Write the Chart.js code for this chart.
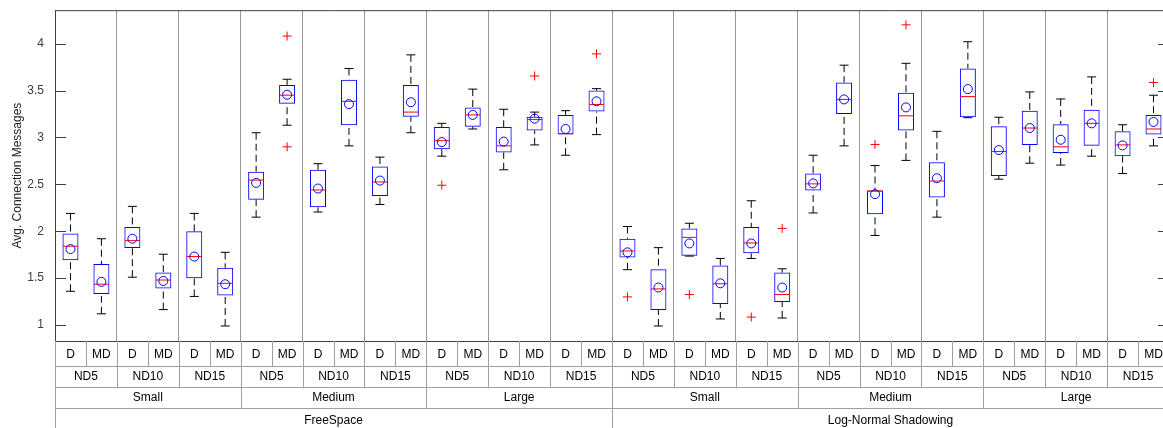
<!DOCTYPE html>
<html>
<head>
<meta charset="utf-8">
<script src="https://cdn.jsdelivr.net/npm/chart.js@4.4.0/dist/chart.umd.min.js"></script>
<style>
  html, body { margin: 0; padding: 0; background: #fff; overflow: hidden; }
  #wrap { position: relative; width: 1171px; height: 428px; }
</style>
</head>
<body>
<div id="wrap"><canvas id="boxChart"></canvas></div>
<script>
// category levels, outermost first
const propagation = ['FreeSpace', 'Log-Normal Shadowing'];
const sizes = ['Small', 'Medium', 'Large'];
const densities = ['ND5', 'ND10', 'ND15'];
const methods = ['D', 'MD'];

const yTicks = [1, 1.5, 2, 2.5, 3, 3.5, 4];

// one value per box: propagation > size > density > method
const whiskerLow = [1.36, 1.12, 1.51, 1.165, 1.305, 0.99, 2.15, 3.13, 2.205, 2.91, 2.285, 3.05,
  2.80, 3.09, 2.655, 2.92, 2.81, 3.03, 1.59, 0.99, 1.735, 1.065, 1.71, 1.075,
  2.195, 2.91, 1.955, 2.755, 2.15, 3.21, 2.555, 2.725, 2.705, 2.80, 2.615, 2.91];
const q1 = [1.69, 1.33, 1.82, 1.39, 1.50, 1.315, 2.335, 3.36, 2.255, 3.13, 2.375, 3.22,
  2.875, 3.115, 2.84, 3.075, 3.03, 3.275, 1.72, 1.16, 1.74, 1.225, 1.765, 1.245,
  2.435, 3.25, 2.18, 3.075, 2.36, 3.215, 2.59, 2.92, 2.835, 2.91, 2.80, 3.03];
const median = [1.84, 1.435, 1.90, 1.48, 1.73, 1.445, 2.545, 3.45, 2.44, 3.385, 2.525, 3.27,
  2.965, 3.24, 2.91, 3.19, 3.04, 3.35, 1.79, 1.385, 1.935, 1.44, 1.875, 1.325,
  2.505, 3.405, 2.43, 3.23, 2.535, 3.435, 2.85, 3.10, 2.90, 3.15, 2.92, 3.09];
const q3 = [1.975, 1.65, 2.045, 1.56, 2.00, 1.61, 2.635, 3.56, 2.655, 3.615, 2.69, 3.56,
  3.11, 3.32, 3.11, 3.22, 3.24, 3.50, 1.92, 1.595, 2.03, 1.635, 2.045, 1.56,
  2.615, 3.585, 2.435, 3.475, 2.735, 3.735, 3.12, 3.285, 3.14, 3.295, 3.065, 3.24];
const whiskerHigh = [2.19, 1.92, 2.265, 1.755, 2.19, 1.775, 3.05, 3.62, 2.72, 3.735, 2.79, 3.88,
  3.15, 3.515, 3.30, 3.27, 3.285, 3.52, 2.05, 1.825, 2.085, 1.71, 2.325, 1.60,
  2.81, 3.77, 2.70, 3.79, 3.065, 4.02, 3.215, 3.485, 3.41, 3.645, 3.135, 3.45];
const mean = [1.81, 1.46, 1.92, 1.47, 1.73, 1.435, 2.515, 3.455, 2.455, 3.355, 2.54, 3.375,
  2.95, 3.24, 2.955, 3.20, 3.09, 3.385, 1.775, 1.40, 1.87, 1.445, 1.87, 1.40,
  2.51, 3.405, 2.395, 3.32, 2.565, 3.515, 2.865, 3.10, 2.975, 3.15, 2.915, 3.165];
const outlierBox = [7, 7, 12, 15, 17, 18, 20, 22, 23, 26, 27, 35];
const outlierValue = [4.08, 2.90, 2.49, 3.655, 3.89, 1.30, 1.325, 1.085, 2.03, 2.925, 4.20, 3.585];

Chart.defaults.font.family = "'Liberation Sans', Arial, sans-serif";

const slot = i => i + 0.5;

const boxData = q1.map((v, i) => ({ x: slot(i), y: [v, q3[i]] }));
const whiskerData = [];
q1.forEach((v, i) => {
  whiskerData.push({ x: slot(i), y: whiskerHigh[i] }, { x: slot(i), y: q3[i] }, { x: slot(i), y: null });
  whiskerData.push({ x: slot(i), y: whiskerLow[i] }, { x: slot(i), y: v }, { x: slot(i), y: null });
});
const capData = [];
q1.forEach((v, i) => {
  capData.push({ x: slot(i), y: whiskerLow[i] }, { x: slot(i), y: whiskerHigh[i] });
});
const medianData = median.map((v, i) => ({ x: slot(i), y: v }));
const meanData = mean.map((v, i) => ({ x: slot(i), y: v }));
const outlierData = outlierBox.map((b, k) => ({ x: slot(b), y: outlierValue[k] }));

function strokeLine(ctx, x1, y1, x2, y2) {
  ctx.beginPath();
  ctx.moveTo(x1, y1);
  ctx.lineTo(x2, y2);
  ctx.stroke();
}

// frame + inward tick marks (right side runs past the window edge, as in the crop)
const framePlugin = {
  id: 'frame',
  afterDatasetsDraw(chart) {
    const { ctx, chartArea: a, scales: { y } } = chart;
    ctx.save();
    ctx.strokeStyle = '#404040';
    ctx.lineWidth = 1;
    strokeLine(ctx, a.left, a.top + 0.5, a.right, a.top + 0.5);
    strokeLine(ctx, a.right - 0.5, a.top, a.right - 0.5, a.bottom);
    yTicks.forEach(v => {
      const py = Math.round(y.getPixelForValue(v)) + 0.5;
      strokeLine(ctx, a.left, py, a.left + 11, py);
      strokeLine(ctx, a.right - 11, py, a.right, py);
    });
    ctx.restore();
  }
};

// nested category table under the plot
const tablePlugin = {
  id: 'categoryTable',
  afterDraw(chart) {
    const { ctx, chartArea: a, scales: { x } } = chart;
    const top = a.bottom;
    const rowEdges = [top, top + 25, top + 46, top + 67, chart.height];
    const px = v => Math.round(x.getPixelForValue(v)) + 0.5;
    const spans = [1, 2, 6, 18];
    const n = q1.length;

    ctx.save();
    ctx.lineWidth = 1;
    ctx.strokeStyle = '#a0a0a0';
    for (let r = 1; r < 4; r++) {
      const yy = Math.round(rowEdges[r]) + 0.5;
      strokeLine(ctx, px(0), yy, a.right, yy);
    }
    for (let k = 0; k <= n; k++) {
      let lvl = 0;
      while (lvl < spans.length && k % spans[lvl] === 0) lvl++;
      strokeLine(ctx, px(k), top, px(k), rowEdges[lvl]);
    }

    ctx.fillStyle = '#000';
    ctx.font = "12px 'Liberation Sans', Arial, sans-serif";
    ctx.textAlign = 'center';
    ctx.textBaseline = 'middle';
    const levels = [methods, densities, sizes, propagation];
    const textY = [top + 13.5, top + 36, top + 57, top + 80];
    levels.forEach((labels, r) => {
      const span = spans[r];
      for (let g = 0; g < n / span; g++) {
        const cx = x.getPixelForValue(g * span + span / 2);
        ctx.fillText(labels[g % labels.length], cx, textY[r]);
      }
    });
    ctx.restore();
  }
};

new Chart(document.getElementById('boxChart'), {
  type: 'bar',
  data: {
    datasets: [
      {
        type: 'line',
        data: whiskerData,
        borderColor: '#000',
        borderWidth: 1,
        borderDash: [7, 4],
        pointRadius: 0,
        spanGaps: false,
        fill: false,
        order: 5
      },
      {
        type: 'bar',
        data: boxData,
        backgroundColor: 'rgba(0,0,0,0)',
        borderColor: '#0000ff',
        borderWidth: 1,
        borderSkipped: false,
        barThickness: 16,
        inflateAmount: 0,
        order: 4
      },
      {
        type: 'scatter',
        data: capData,
        pointStyle: 'line',
        pointRadius: 4.5,
        borderColor: '#000',
        borderWidth: 1,
        order: 3
      },
      {
        type: 'scatter',
        data: medianData,
        pointStyle: 'line',
        pointRadius: 7.5,
        borderColor: '#ff0000',
        borderWidth: 1,
        order: 2
      },
      {
        type: 'scatter',
        data: meanData,
        pointStyle: 'circle',
        pointRadius: 4.5,
        borderColor: '#0000ff',
        backgroundColor: 'rgba(0,0,0,0)',
        borderWidth: 1,
        order: 1
      },
      {
        type: 'scatter',
        data: outlierData,
        pointStyle: 'cross',
        pointRadius: 4.5,
        borderColor: '#ff0000',
        borderWidth: 1,
        order: 0
      }
    ]
  },
  options: {
    responsive: true,
    maintainAspectRatio: false,
    animation: false,
    events: [],
    layout: { autoPadding: false, padding: { left: 0, top: 10, right: 2, bottom: 87 } },
    plugins: { legend: { display: false }, tooltip: { enabled: false } },
    scales: {
      x: {
        type: 'linear',
        offset: false,
        min: 0,
        max: q1.length,
        afterBuildTicks: s => {
          s.ticks = [];
          for (let v = 0; v <= q1.length; v += methods.length) s.ticks.push({ value: v });
        },
        afterFit: s => { s.height = 0; },
        ticks: { display: false },
        grid: { color: '#999', drawTicks: false, offset: false },
        border: { display: true, color: '#404040' }
      },
      y: {
        type: 'linear',
        min: 0.83,
        max: 4.356,
        afterBuildTicks: s => { s.ticks = yTicks.map(v => ({ value: v })); },
        afterFit: s => { s.width = 55; },
        ticks: {
          color: '#3c3c3c',
          padding: 3,
          font: { size: 12 },
          callback: v => String(v)
        },
        grid: { display: false },
        border: { display: true, color: '#404040' },
        title: {
          display: true,
          text: 'Avg. Connection Messages',
          color: '#222',
          font: { size: 12 },
          padding: { top: 10, bottom: 0 }
        }
      }
    }
  },
  plugins: [framePlugin, tablePlugin]
});
</script>
</body>
</html>
